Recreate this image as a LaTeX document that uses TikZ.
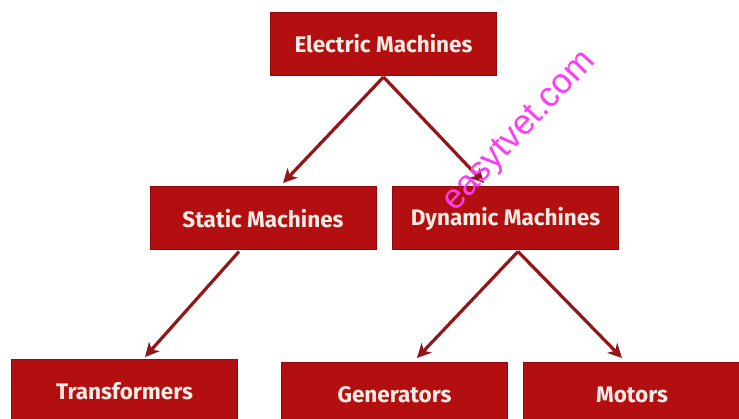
\documentclass[tikz,border=0pt]{standalone}
\usepackage{fontspec}
\setmainfont{Fira Sans}
\newfontfamily\wmfont{Liberation Sans}
\usetikzlibrary{arrows.meta,calc}
\definecolor{boxred}{HTML}{B30E10}
\definecolor{boxedge}{HTML}{8E0A0C}
\definecolor{arrred}{HTML}{931618}
\definecolor{txtcream}{HTML}{F9ECE4}
\definecolor{wmpink}{HTML}{FF3CF5}
\tikzset{
  mbox/.style={draw=boxedge, line width=1pt, fill=boxred, text=txtcream,
    minimum width=226pt, minimum height=63pt, inner sep=0pt,
    font=\fontsize{22.5}{24}\selectfont\bfseries},
  arr/.style={draw=arrred, line width=3.2pt,
    -{Stealth[length=14pt,width=14pt,inset=4pt]}},
}
\begin{document}
\begin{tikzpicture}[x=1pt,y=-1pt]
\useasboundingbox (0,0) rectangle (739,419);
\fill[white] (0,0) rectangle (739,419);
\begin{scope}
\clip (0,0) rectangle (739,419);
\node[mbox] (em) at (383.5,44) {Electric Machines};
\node[mbox] (sm) at (263,218.5) {Static Machines};
\node[mbox] (dm) at (505.5,218.5) {Dynamic Machines};
\node[mbox] (tr) at (124.5,391.5) {Transformers};
\node[mbox] (ge) at (394.5,394.5) {Generators};
\node[mbox,minimum width=218pt] (mo) at (632,394.5) {Motors};

\coordinate (emo) at ($(em.south)+(0,1)$);
\coordinate (smo) at ($(sm.south)+(-24,1)$);
\coordinate (dmo) at ($(dm.south)+(12.5,1)$);
\coordinate (t1) at (283,183);
\coordinate (t2) at (484,183);
\coordinate (t3) at (145,357);
\coordinate (t4) at (417,358);
\coordinate (t5) at (622,358);
\draw[arr] (emo) -- (t1);
\draw[arr] (emo) -- (t2);
\draw[arr] (smo) -- (t3);
\draw[arr] (dmo) -- (t4);
\draw[arr] (dmo) -- (t5);

\node[text=wmpink, font=\wmfont\fontsize{35}{38}\selectfont, rotate=47, inner sep=0pt] (wm) at (520,132) {easytvet.com};
\end{scope}
\end{tikzpicture}
\end{document}
